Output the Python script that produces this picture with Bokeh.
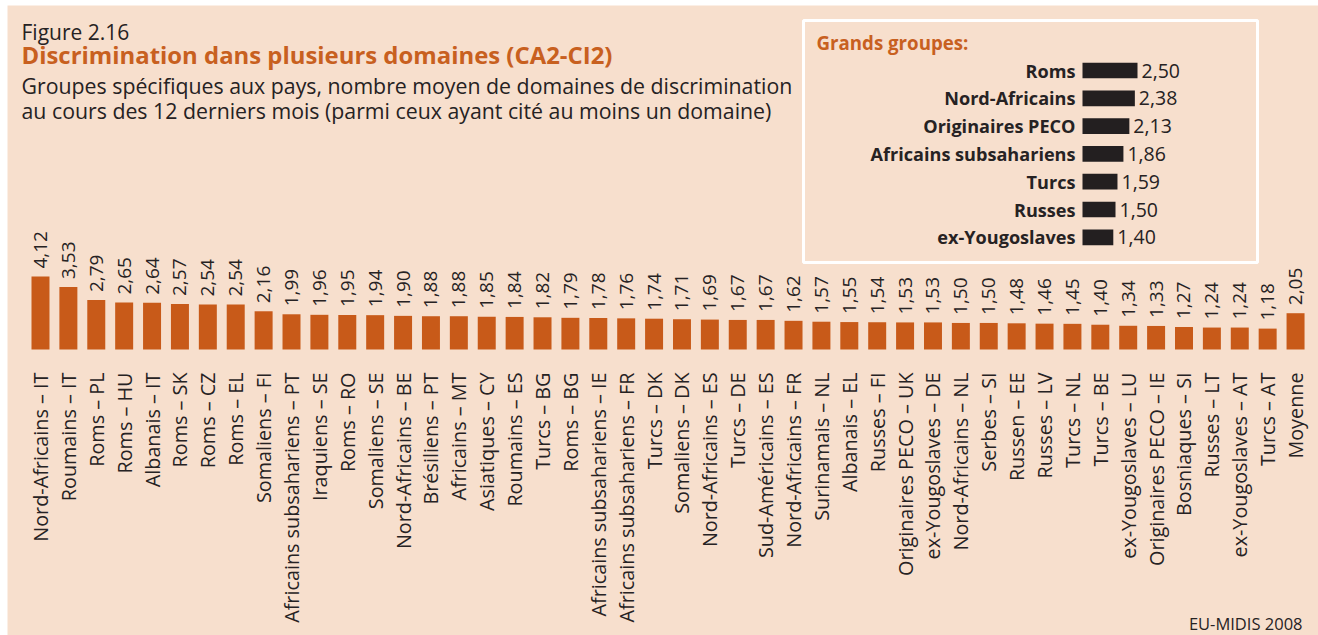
import math
from bokeh.plotting import figure
from bokeh.models import ColumnDataSource, Range1d
from bokeh.core.properties import value
from bokeh.embed import file_html
from bokeh.resources import INLINE

# ---------------- data ----------------
categories = [
    "Nord-Africains – IT", "Roumains – IT", "Roms – PL", "Roms – HU", "Albanais – IT",
    "Roms – SK", "Roms – CZ", "Roms – EL", "Somaliens – FI", "Africains subsahariens – PT",
    "Iraquiens – SE", "Roms – RO", "Somaliens – SE", "Nord-Africains – BE", "Brésiliens – PT",
    "Africains – MT", "Asiatiques – CY", "Roumains – ES", "Turcs – BG", "Roms – BG",
    "Africains subsahariens – IE", "Africains subsahariens – FR", "Turcs – DK", "Somaliens – DK",
    "Nord-Africains – ES", "Turcs – DE", "Sud-Américains – ES", "Nord-Africains – FR",
    "Surinamais – NL", "Albanais – EL", "Russes – FI", "Originaires PECO – UK",
    "ex-Yougoslaves – DE", "Nord-Africains – NL", "Serbes – SI", "Russen – EE", "Russes – LV",
    "Turcs – NL", "Turcs – BE", "ex-Yougoslaves – LU", "Originaires PECO – IE",
    "Bosniaques – SI", "Russes – LT", "ex-Yougoslaves – AT", "Turcs – AT", "Moyenne",
]
values = [
    4.12, 3.53, 2.79, 2.65, 2.64, 2.57, 2.54, 2.54, 2.16, 1.99,
    1.96, 1.95, 1.94, 1.90, 1.88, 1.88, 1.85, 1.84, 1.82, 1.79,
    1.78, 1.76, 1.74, 1.71, 1.69, 1.67, 1.67, 1.62, 1.57, 1.55,
    1.54, 1.53, 1.53, 1.50, 1.50, 1.48, 1.46, 1.45, 1.40, 1.34,
    1.33, 1.27, 1.24, 1.24, 1.18, 2.05,
]
group_names = ["Roms", "Nord-Africains", "Originaires PECO", "Africains subsahariens",
               "Turcs", "Russes", "ex-Yougoslaves"]
group_values = [2.50, 2.38, 2.13, 1.86, 1.59, 1.50, 1.40]

title_fig = "Figure 2.16"
title_main = "Discrimination dans plusieurs domaines (CA2-CI2)"
subtitle_1 = "Groupes spécifiques aux pays, nombre moyen de domaines de discrimination"
subtitle_2 = "au cours des 12 derniers mois (parmi ceux ayant cité au moins un domaine)"
inset_title = "Grands groupes:"
source_note = "EU-MIDIS 2008"

# ---------------- style ----------------
BG = "#f7dfcd"
BAR = "#c85a19"
ORANGE = "#c8601f"
DARK = "#262223"
FONT = "Open Sans"

W, H = 1318, 635
L0, T0 = 7, 5          # white margins (left, top)
SX, SY = 27.89, 17.7   # px per main x unit / per value unit
XS = -1.183
YT = (349 - T0) / SY
YB = YT - (H - T0) / SY


def X(px):
    return XS + (px - L0) / SX


def Y(py):
    return YT - (py - T0) / SY


p = figure(width=W, height=H, output_backend="svg", toolbar_location=None,
           x_range=Range1d(XS, XS + (W - L0) / SX), y_range=Range1d(YB, YT),
           x_axis_type=None, y_axis_type=None,
           min_border_left=L0, min_border_top=T0, min_border_right=0, min_border_bottom=0)
p.background_fill_color = BG
p.border_fill_color = "white"
p.outline_line_color = None
p.grid.visible = False

src = ColumnDataSource(dict(
    x=list(range(len(categories))),
    v=values,
    cat=categories,
    vl=[f"{v:.2f}".replace(".", ",") for v in values],
))

p.vbar(x="x", top="v", bottom=0, width=0.645, source=src, fill_color=BAR, line_color=None)
p.text(x="x", y="v", text="vl", source=src, angle=math.pi / 2, y_offset=-8,
       text_align="left", text_baseline="middle", text_font=value(FONT),
       text_font_size="19px", text_color=DARK)
p.text(x="x", y=Y(372), text="cat", source=src, angle=math.pi / 2,
       text_align="right", text_baseline="middle", text_font=value(FONT),
       text_font_size="19.8px", text_color=DARK)

# titles
p.text(x=[X(21)], y=[Y(31)], text=[title_fig], text_font=value(FONT), text_font_size="21px",
       text_color=DARK, text_baseline="alphabetic")
p.text(x=[X(21)], y=[Y(54)], text=[title_main], text_font=value(FONT), text_font_size="23.9px",
       text_font_style="bold", text_color=ORANGE, text_baseline="alphabetic")
p.text(x=[X(21)], y=[Y(85)], text=[subtitle_1], text_font=value(FONT), text_font_size="21.3px",
       text_color=DARK, text_baseline="alphabetic")
p.text(x=[X(21)], y=[Y(110)], text=[subtitle_2], text_font=value(FONT), text_font_size="21.3px",
       text_color=DARK, text_baseline="alphabetic")
p.text(x=[X(1302)], y=[Y(623)], text=[source_note], text_font=value(FONT), text_font_size="16.5px",
       text_color=DARK, text_align="right", text_baseline="alphabetic")

# inset box
p.quad(left=[X(803)], right=[X(1257)], top=[Y(20)], bottom=[Y(262)],
       fill_color=None, line_color="white", line_width=3)
p.text(x=[X(816)], y=[Y(42)], text=[inset_title], text_font=value(FONT), text_font_size="18.7px",
       text_font_style="bold", text_color=ORANGE, text_baseline="alphabetic")

ISX, ISY = 22.0, 27.8
p.extra_x_ranges = {"ix": Range1d(-(1082 - L0) / ISX, (W - 1082) / ISX)}
p.extra_y_ranges = {"iy": Range1d((H - 70) / ISY, (T0 - 70) / ISY)}
gsrc = ColumnDataSource(dict(
    y=list(range(len(group_names))),
    v=group_values,
    name=group_names,
    vl=[f"{v:.2f}".replace(".", ",") for v in group_values],
))
p.hbar(y="y", left=0, right="v", height=0.565, source=gsrc, fill_color="#231f20",
       line_color=None, x_range_name="ix", y_range_name="iy")
p.text(x=0, y="y", text="name", source=gsrc, x_offset=-7, text_align="right",
       text_baseline="middle", text_font=value(FONT), text_font_size="18.1px",
       text_font_style="bold", text_color=DARK, x_range_name="ix", y_range_name="iy")
p.text(x="v", y="y", text="vl", source=gsrc, x_offset=4, text_align="left",
       text_baseline="middle", text_font=value(FONT), text_font_size="19.5px",
       text_color=DARK, x_range_name="ix", y_range_name="iy")

open("out.html", "w").write(file_html(p, INLINE))
